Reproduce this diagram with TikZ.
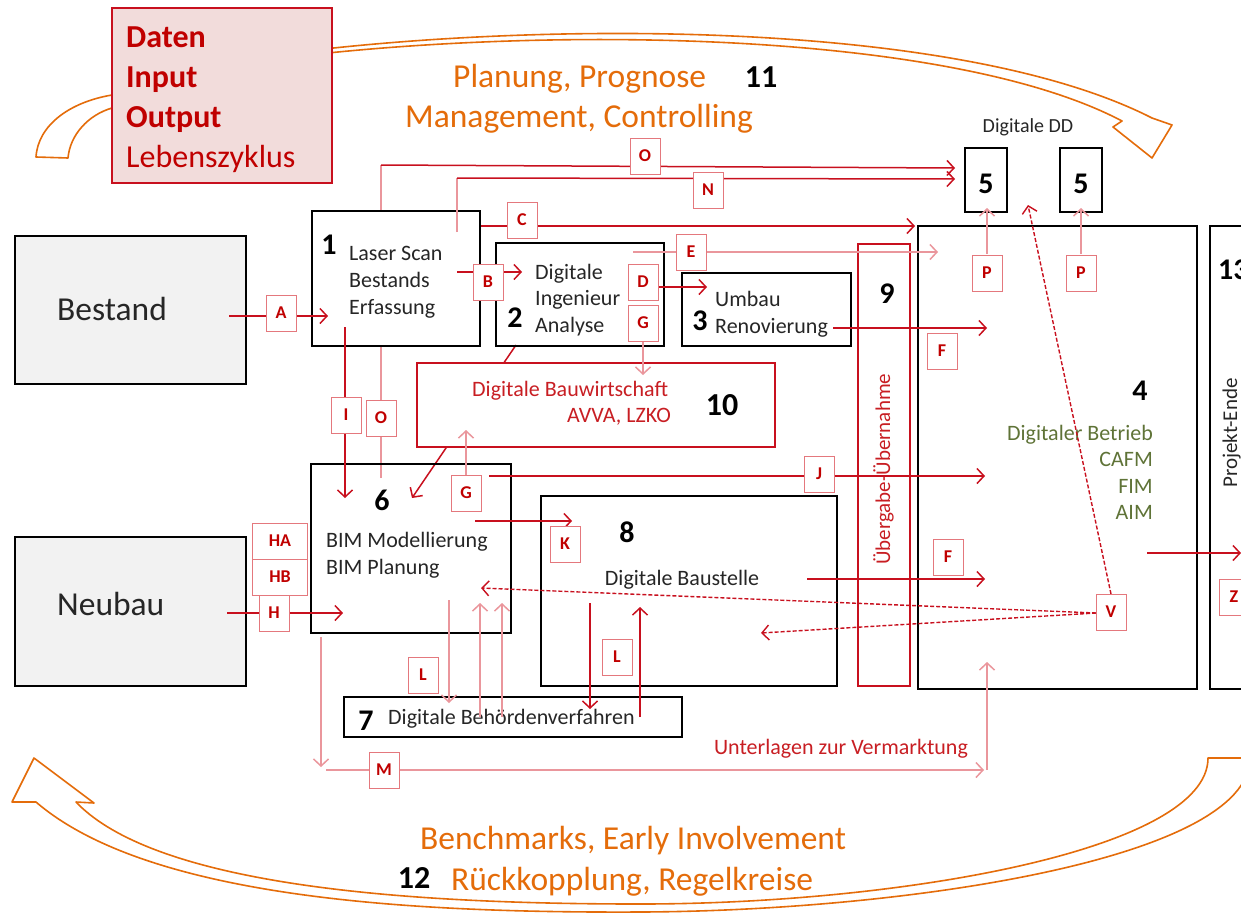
\documentclass[tikz,border=0pt]{standalone}
\usepackage{fontspec}
\setmainfont{Carlito}
\usetikzlibrary{arrows.meta}
\definecolor{redc}{RGB}{200,16,30}
\definecolor{palec}{RGB}{234,150,156}
\definecolor{lblc}{RGB}{228,120,125}
\definecolor{lbltext}{RGB}{192,0,0}
\definecolor{textred}{RGB}{200,30,35}
\definecolor{orangec}{RGB}{228,108,10}
\definecolor{textc}{RGB}{38,38,38}
\definecolor{greenc}{RGB}{95,115,55}
\definecolor{grayfill}{RGB}{242,242,242}
\definecolor{pinkfill}{RGB}{242,220,219}
\newcommand\fsz[1]{\fontsize{#1}{#1}\selectfont}
\begin{document}
\begin{tikzpicture}[x=1pt,y=-1pt,
  bbox/.style={draw=black,line width=2.6pt,inner sep=0pt,outer sep=0pt,anchor=north west},
  lbl/.style={draw=lblc,line width=1pt,fill=white,minimum width=30pt,minimum height=36pt,inner sep=0pt,font=\fsz{18}\bfseries,text=lbltext},
  rl/.style={draw=redc,line width=1.5pt},
  pl/.style={draw=palec,line width=1.5pt},
  arr/.style={-{Straight Barb[length=7pt,width=15pt]}},
  dl/.style={draw=redc,line width=1.4pt,dash pattern=on 4pt off 2pt},
  tx/.style={font=\fsz{22},text=textc,inner sep=0pt},
  big/.style={font=\fsz{33.5},inner sep=0pt},
  num/.style={font=\fsz{30}\bfseries,inner sep=0pt,text=black},
  arcs/.style={draw=orangec,line width=1.6pt,fill=white,line join=round},
]
\useasboundingbox (0,0) rectangle (1241,913);
\clip (0,0) rectangle (1241,913);

% ---------- orange arcs ----------
\draw[arcs] (36,157) .. controls (38,125) and (70,102) .. (112,95)
 -- (240,60) .. controls (500,20) and (950,15) .. (1152,118)
 -- (1172,125) -- (1152,158) -- (1113,127) -- (1122,121)
 .. controls (940,25) and (500,25) .. (240,64)
 -- (112,108) .. controls (88,115) and (70,135) .. (68,158) -- cycle;
\draw[arcs] (36,802) .. controls (150,900) and (420,913) .. (640,912)
 .. controls (900,911) and (1250,860) .. (1250,758)
 -- (1208,758) .. controls (1208,850) and (900,904) .. (640,904)
 .. controls (430,904) and (160,890) .. (76,802)
 -- (94,803) -- (34,758) -- (12,802) -- cycle;

% ---------- Daten box ----------
\node[bbox,draw=redc,line width=1.5pt,fill=pinkfill,minimum width=220pt,minimum height=175pt] (daten) at (112,8) {};
\node[big,anchor=base west,text=lbltext,font=\fsz{32}\bfseries] (t1) at (126,47) {Daten};
\node[big,anchor=base west,text=lbltext,font=\fsz{32}\bfseries] (t2) at (126,87) {Input};
\node[big,anchor=base west,text=lbltext,font=\fsz{32}\bfseries] (t3) at (126,127) {Output};
\node[big,anchor=base west,text=lbltext,font=\fsz{32}] (t4) at (126,167) {Lebenszyklus};

\node[big,anchor=base west,text=orangec] (pl1) at (453,87) {Planung, Prognose};
\node[big,anchor=base west,text=orangec] (pl2) at (405,127) {Management, Controlling};
\node[big,anchor=base west,text=orangec] (bm1) at (420,849) {Benchmarks, Early Involvement};
\node[big,anchor=base west,text=orangec] (bm2) at (451,890) {Rückkopplung, Regelkreise};

% ---------- coordinates ----------
\coordinate (o0) at (381,478); \coordinate (o1) at (381,165); \coordinate (o2) at (955,168);
\coordinate (dg0) at (516,345); \coordinate (dg1) at (412,498);

% O line and diagonal (behind boxes 1 and 10)
\draw[pl] (o0) -- (o1);
\draw[rl,arr] (o1) -- (o2);
\draw[rl,arr] (dg0) -- (dg1);

% ---------- boxes ----------
\node[bbox,fill=grayfill,minimum width=231pt,minimum height=148pt] (bestand) at (15,236) {};
\node[bbox,fill=grayfill,minimum width=231pt,minimum height=149pt] (neubau) at (15,537) {};
\node[bbox,fill=white,minimum width=168pt,minimum height=135pt] (b1) at (312,211) {};
\node[bbox,minimum width=168pt,minimum height=103pt] (b2) at (496,243) {};
\node[bbox,minimum width=169pt,minimum height=73pt] (b3) at (682,273) {};
\node[bbox,draw=redc,fill=white,minimum width=358pt,minimum height=84pt] (b10) at (417,363) {};
\node[bbox,minimum width=200pt,minimum height=169pt] (b6) at (311,464) {};
\node[bbox,minimum width=296pt,minimum height=190pt] (b8) at (541,496) {};
\node[bbox,minimum width=338pt,minimum height=40pt] (b7) at (344,697) {};
\node[bbox,draw=redc,line width=1.8pt,minimum width=52pt,minimum height=442pt] (b9) at (858,244) {};
\node[bbox,line width=2.4pt,minimum width=279pt,minimum height=463pt] (b4) at (918,226) {};
\node[bbox,line width=2.4pt,minimum width=60pt,minimum height=463pt] (b13) at (1210,226) {};
\node[bbox,minimum width=42pt,minimum height=64pt] (b5a) at (965,148) {};
\node[bbox,minimum width=42pt,minimum height=64pt] (b5b) at (1060,148) {};

% ---------- texts ----------
\node[big,anchor=base west,text=textc] (tb) at (57,320) {Bestand};
\node[big,anchor=base west,text=textc] (tn) at (57,615) {Neubau};
\node[tx,anchor=base west] (x11) at (349,260) {Laser Scan};
\node[tx,anchor=base west] (x12) at (349,287) {Bestands};
\node[tx,anchor=base west] (x13) at (349,314) {Erfassung};
\node[tx,anchor=base west] (x21) at (535,279) {Digitale};
\node[tx,anchor=base west] (x22) at (535,305) {Ingenieur};
\node[tx,anchor=base west] (x23) at (535,332) {Analyse};
\node[tx,anchor=base west] (x31) at (715,306) {Umbau};
\node[tx,anchor=base west] (x32) at (715,333) {Renovierung};
\node[tx,anchor=base west,text=textred] (x101) at (472,396) {Digitale Bauwirtschaft};
\node[tx,anchor=base east,text=textred] (x102) at (671,422) {AVVA, LZKO};
\node[tx,anchor=base west] (x61) at (326,547) {BIM Modellierung};
\node[tx,anchor=base west] (x62) at (326,574) {BIM Planung};
\node[tx,anchor=base] (x81) at (682,585) {Digitale Baustelle};
\node[tx,anchor=base west] (x71) at (388,724) {Digitale Behördenverfahren};
\node[tx,anchor=base east,text=greenc] (x41) at (1153,440) {Digitaler Betrieb};
\node[tx,anchor=base east,text=greenc] (x42) at (1153,466) {CAFM};
\node[tx,anchor=base east,text=greenc] (x43) at (1153,493) {FIM};
\node[tx,anchor=base east,text=greenc] (x44) at (1153,519) {AIM};
\node[tx,anchor=base east,text=textred,font=\fsz{22}] (xum) at (968,754) {Unterlagen zur Vermarktung};
\node[tx,font=\fsz{20}] (xdd) at (1028,127) {Digitale DD};
\node[tx,anchor=base west,rotate=90,text=textred,font=\fsz{21}] (x9) at (890,565) {Übergabe-Übernahme};
\node[tx,anchor=base west,rotate=90,font=\fsz{21}] (x13t) at (1237,488) {Projekt-Ende};

\node[num,anchor=base] (n1) at (329,254) {1};
\node[num,anchor=base] (n2) at (515,327) {2};
\node[num,anchor=base] (n3) at (700,330) {3};
\node[num,anchor=base] (n4) at (1140,400) {4};
\node[num,anchor=base] (n5a) at (986,193) {5};
\node[num,anchor=base] (n5b) at (1081,193) {5};
\node[num,anchor=base] (n6) at (382,510) {6};
\node[num,anchor=base] (n7) at (366,730) {7};
\node[num,anchor=base] (n8) at (627,542) {8};
\node[num,anchor=base] (n9) at (887,303) {9};
\node[num,anchor=base,font=\fsz{32}\bfseries] (n10) at (722,415) {10};
\node[num,anchor=base,font=\fsz{32}\bfseries] (n11) at (761,87) {11};
\node[num,anchor=base,font=\fsz{32}\bfseries] (n12) at (414,888) {12};
\node[num,anchor=base west] (n13) at (1218,279) {13};

% ---------- connector coordinates ----------
\coordinate (a0) at (229,316); \coordinate (a1) at (328,316);
\coordinate (bb0) at (457,272); \coordinate (bb1) at (522,272);
\coordinate (c0) at (481,226); \coordinate (c1) at (915,226);
\coordinate (nn0) at (457,232); \coordinate (nn1) at (457,178); \coordinate (nn2) at (955,179);
\coordinate (e0) at (633,252); \coordinate (e1) at (938,252);
\coordinate (d0) at (658,287); \coordinate (d1) at (707,287);
\coordinate (gu0) at (643,341); \coordinate (gu1) at (643,375);
\coordinate (i0) at (345,327); \coordinate (i1) at (345,498);
\coordinate (gl0) at (466,475); \coordinate (gl1) at (466,430);
\coordinate (j0) at (489,476); \coordinate (j1) at (985,476);
\coordinate (k0) at (475,521); \coordinate (k1) at (572,521);
\coordinate (h0) at (227,613); \coordinate (h1) at (343,613);
\coordinate (fu0) at (833,328); \coordinate (fu1) at (987,328);
\coordinate (fl0) at (807,579); \coordinate (fl1) at (985,579);
\coordinate (p1a) at (987,254); \coordinate (p1b) at (987,208);
\coordinate (p2a) at (1081,254); \coordinate (p2b) at (1081,208);
\coordinate (v0) at (1096,613); \coordinate (v1) at (481,588); \coordinate (v2) at (761,633);
\coordinate (vt) at (1111,594); \coordinate (vt1) at (1028,205);
\coordinate (l0) at (449,600); \coordinate (l1) at (449,703);
\coordinate (u1a) at (480,717); \coordinate (u1b) at (480,603);
\coordinate (u2a) at (502,717); \coordinate (u2b) at (502,603);
\coordinate (s0) at (590,603); \coordinate (s1) at (590,709);
\coordinate (s2) at (640,717); \coordinate (s3) at (640,607);
\coordinate (m0) at (321,637); \coordinate (m1) at (321,767);
\coordinate (m2) at (326,770); \coordinate (m3) at (984,770);
\coordinate (m4) at (987,770); \coordinate (m5) at (987,662);
\coordinate (z0) at (1147,553); \coordinate (z1) at (1241,553);

% ---------- connectors ----------
\draw[rl,arr] (a0) -- (a1);
\draw[rl,arr] (bb0) -- (bb1);
\draw[rl,arr] (c0) -- (c1);
\draw[pl] (nn0) -- (nn1);
\draw[rl,arr] (nn1) -- (nn2);
\draw[pl,arr] (e0) -- (e1);
\draw[rl,arr] (d0) -- (d1);
\draw[pl,arr] (gu0) -- (gu1);
\draw[rl,arr] (i0) -- (i1);
\draw[pl,arr] (gl0) -- (gl1);
\draw[rl,arr] (j0) -- (j1);
\draw[rl,arr] (k0) -- (k1);
\draw[rl,arr] (h0) -- (h1);
\draw[rl,arr] (fu0) -- (fu1);
\draw[rl,arr] (fl0) -- (fl1);
\draw[pl,arr] (p1a) -- (p1b);
\draw[pl,arr] (p2a) -- (p2b);
\draw[dl,arr] (v0) -- (v1);
\draw[dl,arr] (v0) -- (v2);
\draw[dl,arr] (vt) -- (vt1);
\draw[pl,arr] (l0) -- (l1);
\draw[pl,arr] (u1a) -- (u1b);
\draw[pl,arr] (u2a) -- (u2b);
\draw[rl,arr] (s0) -- (s1);
\draw[rl,arr] (s2) -- (s3);
\draw[pl,arr] (m0) -- (m1);
\draw[pl,arr] (m2) -- (m3);
\draw[pl,arr] (m4) -- (m5);
\draw[rl,arr] (z0) -- (z1);

% ---------- labels ----------
\node[lbl] (lA) at (281,313) {A};
\node[lbl] (lB) at (488,282) {B};
\node[lbl] (lC) at (522,220) {C};
\node[lbl] (lO1) at (645,156) {O};
\node[lbl] (lN) at (708,190) {N};
\node[lbl] (lE) at (691,252) {E};
\node[lbl] (lD) at (643,282) {D};
\node[lbl] (lGu) at (643,323) {G};
\node[lbl] (lI) at (346,415) {I};
\node[lbl] (lO2) at (381,418) {O};
\node[lbl] (lGl) at (466,493) {G};
\node[lbl] (lJ) at (819,474) {J};
\node[lbl] (lK) at (565,544) {K};
\node[lbl,minimum width=55pt,minimum height=36pt] (lHA) at (280,541) {HA};
\node[lbl,minimum width=55pt,minimum height=36pt] (lHB) at (280,577) {HB};
\node[lbl] (lH) at (274,613) {H};
\node[lbl] (lFu) at (942,351) {F};
\node[lbl] (lFl) at (948,557) {F};
\node[lbl] (lP1) at (987,273) {P};
\node[lbl] (lP2) at (1081,273) {P};
\node[lbl] (lV) at (1111,612) {V};
\node[lbl] (lL1) at (423,675) {L};
\node[lbl] (lL2) at (617,657) {L};
\node[lbl] (lM) at (384,770) {M};
\node[lbl] (lZ) at (1234,597) {Z};
\end{tikzpicture}
\end{document}
